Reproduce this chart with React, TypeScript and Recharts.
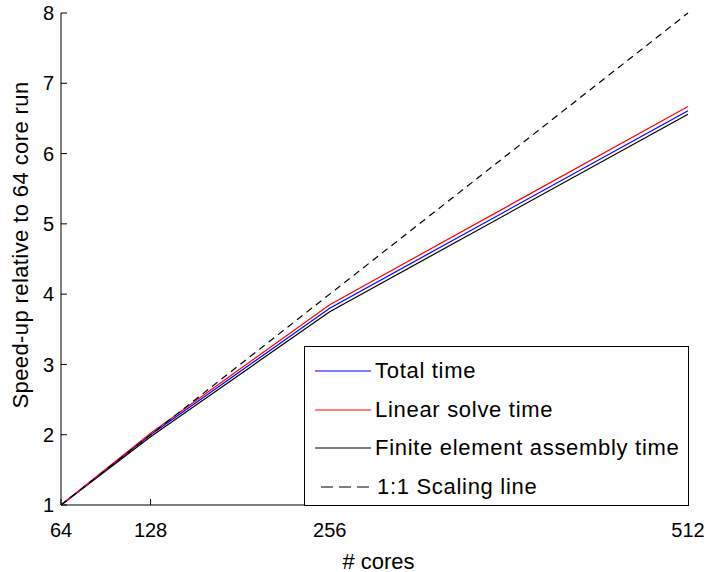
import { LineChart, Line, XAxis, YAxis, Legend } from "recharts";

// MATLAB-style strong-scaling plot: speed-up vs. number of cores
const cores = [64, 128, 256, 512];
const totalTime = [1, 2.0, 3.8, 6.61];
const linearSolve = [1, 2.02, 3.85, 6.67];
const feAssembly = [1, 1.97, 3.75, 6.56];
const idealScaling = [1, 2, 4, 8];

const xTicks = [64, 128, 256, 512];
const yTicks = [1, 2, 3, 4, 5, 6, 7, 8];

const data = cores.map((c, i) => ({
  cores: c,
  total: totalTime[i],
  linear: linearSolve[i],
  assembly: feAssembly[i],
  ideal: idealScaling[i],
}));

const FONT = "'Liberation Sans', Arial, Helvetica, sans-serif";
const tickStyle = { fill: "#000", fontSize: 20, fontFamily: FONT };

type LegendEntry = {
  value: string;
  color: string;
  payload?: { strokeDasharray?: string };
};

function BoxLegend({ payload }: { payload?: LegendEntry[] }) {
  if (!payload) return null;
  return (
    <div
      style={{
        width: "100%",
        height: "100%",
        boxSizing: "border-box",
        border: "1px solid #000",
        background: "#fff",
        paddingTop: 5,
        fontFamily: FONT,
        fontSize: 22,
        letterSpacing: 0.7,
        color: "#000",
      }}
    >
      {payload.map((p) => {
        const dashed = !!p.payload?.strokeDasharray;
        return (
          <div
            key={p.value}
            style={{ height: 38.5, display: "flex", alignItems: "center" }}
          >
            <svg width={70} height={10} style={{ flex: "none" }}>
              <line
                x1={dashed ? 16 : 10}
                x2={66}
                y1={5}
                y2={5}
                stroke={p.color}
                strokeWidth={1.2}
                strokeDasharray={dashed ? "12 6" : undefined}
              />
            </svg>
            <span style={{ whiteSpace: "nowrap", marginLeft: dashed ? 2 : 0 }}>
              {p.value}
            </span>
          </div>
        );
      })}
    </div>
  );
}

export default function App() {
  return (
    <div style={{ position: "absolute", left: 0, top: 0, background: "#fff" }}>
      <LineChart
        width={709}
        height={572}
        data={data}
        margin={{ top: 13, right: 21, left: 0, bottom: 0 }}
      >
        <XAxis
          dataKey="cores"
          type="number"
          domain={[64, 512]}
          ticks={xTicks}
          interval={0}
          height={67}
          tickSize={-6}
          tickMargin={24}
          tick={tickStyle}
          stroke="#000"
          label={{
            content: ({ viewBox }: any) => (
              <text
                x={viewBox.x + viewBox.width / 2 + 4}
                y={viewBox.y + 56}
                textAnchor="middle"
                dominantBaseline="central"
                fontSize={22}
                fontFamily={FONT}
                fill="#000"
              >
                # cores
              </text>
            ),
          }}
        />
        <XAxis
          xAxisId="top"
          orientation="top"
          type="number"
          domain={[64, 512]}
          ticks={xTicks}
          interval={0}
          height={0}
          tickSize={-6}
          tick={false}
          stroke="#000"
        />
        <YAxis
          type="number"
          domain={[1, 8]}
          ticks={yTicks}
          interval={0}
          width={61}
          tickSize={-6}
          tickMargin={13}
          tick={tickStyle}
          stroke="#000"
          label={{
            content: ({ viewBox }: any) => {
              const cx = 20;
              const cy = viewBox.y + viewBox.height / 2 - 14;
              return (
                <text
                  x={cx}
                  y={cy}
                  transform={`rotate(-90 ${cx} ${cy})`}
                  textAnchor="middle"
                  dominantBaseline="central"
                  fontSize={22}
                  letterSpacing={0.4}
                  fontFamily={FONT}
                  fill="#000"
                >
                  Speed-up relative to 64 core run
                </text>
              );
            },
          }}
        />
        <YAxis
          yAxisId="right"
          orientation="right"
          type="number"
          domain={[1, 8]}
          ticks={yTicks}
          interval={0}
          width={0}
          tickSize={-6}
          tick={false}
          stroke="#000"
        />
        <Line
          type="linear"
          dataKey="assembly"
          name="Finite element assembly time"
          stroke="#000000"
          strokeWidth={1.2}
          dot={false}
          isAnimationActive={false}
        />
        <Line
          type="linear"
          dataKey="total"
          name="Total time"
          stroke="#0000ff"
          strokeWidth={1.2}
          dot={false}
          isAnimationActive={false}
        />
        <Line
          type="linear"
          dataKey="linear"
          name="Linear solve time"
          stroke="#ff0000"
          strokeWidth={1.2}
          dot={false}
          isAnimationActive={false}
        />
        <Line
          type="linear"
          dataKey="ideal"
          name="1:1 Scaling line"
          stroke="#000000"
          strokeWidth={1.2}
          strokeDasharray="7 5"
          dot={false}
          isAnimationActive={false}
        />
        <Legend
          layout="vertical"
          align="center"
          verticalAlign="middle"
          itemSorter={(item: any) =>
            ["total", "linear", "assembly", "ideal"].indexOf(item.dataKey)
          }
          content={<BoxLegend />}
          wrapperStyle={{ left: 304, top: 346, width: 385, height: 160 }}
        />
      </LineChart>
    </div>
  );
}
